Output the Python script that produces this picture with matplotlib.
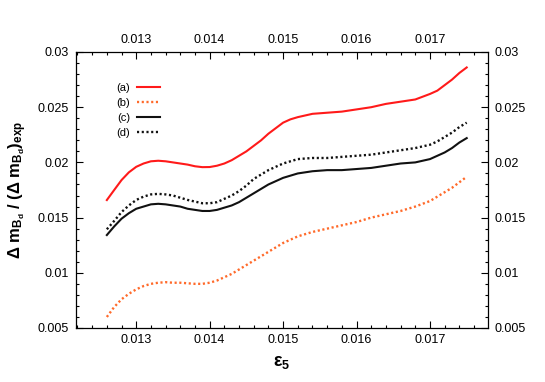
import matplotlib
matplotlib.use("Agg")
import matplotlib.pyplot as plt
from matplotlib.ticker import MultipleLocator, FormatStrFormatter

plt.rcParams['font.family'] = ['Liberation Sans', 'DejaVu Sans']
plt.rcParams['mathtext.fontset'] = 'custom'
plt.rcParams['mathtext.rm'] = 'Liberation Sans'
plt.rcParams['mathtext.bf'] = 'Liberation Sans:bold'
plt.rcParams['mathtext.it'] = 'Liberation Sans:italic'

eps5 = [0.0126, 0.0127, 0.0128, 0.0129, 0.0130, 0.0131, 0.0132, 0.0133, 0.0134,
        0.0135, 0.0136, 0.0137, 0.0138, 0.0139, 0.0140, 0.0141, 0.0142, 0.0143,
        0.0144, 0.0145, 0.0146, 0.0147, 0.0148, 0.0149, 0.0150, 0.0151, 0.0152,
        0.0154, 0.0156, 0.0158, 0.0160, 0.0162, 0.0164, 0.0166, 0.0168, 0.0170,
        0.0171, 0.0172, 0.0173, 0.0174, 0.0175]

series_a = [0.01659, 0.0175, 0.0184, 0.0191, 0.0196, 0.0199, 0.0201, 0.02015, 0.0201,
            0.0200, 0.0199, 0.0198, 0.01965, 0.01957, 0.01958, 0.0197, 0.0199, 0.0202,
            0.0206, 0.0210, 0.0215, 0.0220, 0.0226, 0.0231, 0.0236, 0.0239, 0.0241,
            0.0244, 0.0245, 0.0246, 0.0248, 0.0250, 0.0253, 0.0255, 0.0257, 0.0262,
            0.0265, 0.0270, 0.0275, 0.0281, 0.0286]

series_b = [0.0060, 0.0069, 0.0076, 0.0081, 0.0085, 0.0088, 0.0090, 0.0091, 0.00915,
            0.0091, 0.0091, 0.00905, 0.0090, 0.0090, 0.0091, 0.0093, 0.0096, 0.0099,
            0.0103, 0.0107, 0.0111, 0.0115, 0.0119, 0.0123, 0.0127, 0.0130, 0.0133,
            0.0137, 0.0140, 0.0143, 0.0146, 0.0150, 0.0153, 0.0156, 0.0160, 0.0165,
            0.0169, 0.0173, 0.0177, 0.0182, 0.0187]

series_c = [0.01342, 0.0142, 0.0149, 0.0154, 0.0158, 0.0160, 0.0162, 0.01625, 0.0162,
            0.0161, 0.0160, 0.0158, 0.0157, 0.0156, 0.0156, 0.0157, 0.0159, 0.0161,
            0.0164, 0.0168, 0.0172, 0.0176, 0.0180, 0.0183, 0.0186, 0.0188, 0.0190,
            0.0192, 0.0193, 0.0193, 0.0194, 0.0195, 0.0197, 0.0199, 0.0200, 0.0203,
            0.0206, 0.0209, 0.0213, 0.0218, 0.0222]

series_d = [0.01394, 0.0147, 0.0155, 0.0161, 0.0166, 0.0169, 0.0171, 0.01715, 0.0171,
            0.0170, 0.0168, 0.0166, 0.01645, 0.0163, 0.0163, 0.0164, 0.0167, 0.0170,
            0.0174, 0.0179, 0.0185, 0.0189, 0.0193, 0.0196, 0.0199, 0.0201, 0.0203,
            0.0204, 0.0204, 0.0205, 0.0206, 0.0207, 0.0209, 0.0211, 0.0213, 0.0216,
            0.0219, 0.0223, 0.0227, 0.0232, 0.0236]

labels = ['(a)', '(b)', '(c)', '(d)']

fig = plt.figure(figsize=(5.45, 3.82), dpi=100)
ax = fig.add_axes([76/545, 1-328/382, (488-76)/545, (328-52)/382])

ax.plot(eps5, series_a, color='#ff1a1a', lw=1.5, label=labels[0])
ax.plot(eps5, series_b, color='#ff6a2a', lw=1.7, linestyle=(0, (0.9, 1.1)), label=labels[1])
ax.plot(eps5, series_c, color='#111111', lw=1.5, label=labels[2])
ax.plot(eps5, series_d, color='#111111', lw=1.7, linestyle=(0, (0.9, 1.1)), label=labels[3])

ax.set_xlim(0.01218, 0.01779)
ax.set_ylim(0.005, 0.03)
ax.xaxis.set_major_locator(MultipleLocator(0.001))
ax.xaxis.set_minor_locator(MultipleLocator(0.0002))
ax.yaxis.set_major_locator(MultipleLocator(0.005))
ax.yaxis.set_minor_locator(MultipleLocator(0.001))
ax.xaxis.set_major_formatter(FormatStrFormatter('%g'))
ax.yaxis.set_major_formatter(FormatStrFormatter('%g'))

ax.tick_params(which='both', direction='in', top=True, right=True,
               labeltop=True, labelright=True, labelsize=9, width=0.8)
ax.tick_params(which='major', length=5)
ax.tick_params(which='minor', length=2.5)
ax.tick_params(axis='y', which='major', pad=5)
ax.tick_params(axis='x', which='major', pad=4)
for s in ax.spines.values():
    s.set_linewidth(0.9)

ax.set_xlabel(r'$\mathbf{\varepsilon_5}$', fontsize=13, labelpad=6)
ax.set_ylabel(r'$\mathbf{\Delta\ m_{B_d}\ /\ (\Delta\ m_{B_d})_{exp}}$', fontsize=12, labelpad=6)

leg = ax.legend(loc='upper left', bbox_to_anchor=(111/545, 1-77/382),
                bbox_transform=fig.transFigure, frameon=False, markerfirst=False,
                fontsize=8, handlelength=2.1, labelspacing=0.45, handletextpad=0.6,
                borderpad=0)

fig.savefig('out.png', dpi=100)
